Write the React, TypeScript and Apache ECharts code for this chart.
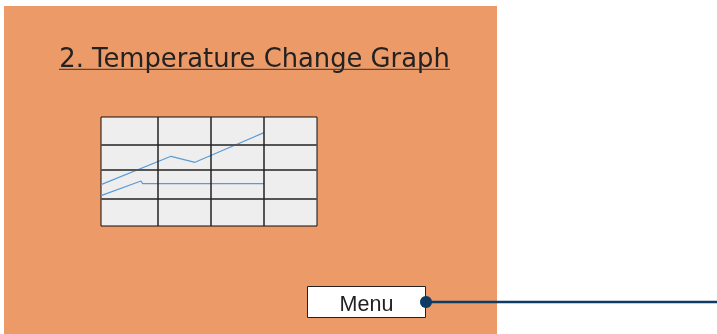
import React, { useEffect, useRef } from "react";
import * as echarts from "echarts";

// Temperature lines (x: position along the grid, y: temperature units)
const upperX = [0, 70, 94, 163];
const upperY = [41.4, 69.7, 63.7, 93.4];
const lowerX = [0, 40, 41.6, 163];
const lowerY = [30.4, 45, 42.4, 42.4];
// Grid cell boundaries
const columnBreaks = [57, 110, 163];
const rowBreaks = [27, 56.7, 81.7];
const xMax = 216;
const yMax = 109;

const title = "2. Temperature Change Graph";
const menuLabel = "Menu";

export default function App() {
  const ref = useRef<HTMLDivElement>(null);
  useEffect(() => {
    document.body.style.margin = "0";
    const chart = echarts.init(ref.current!, undefined, { renderer: "svg" });
    const pair = (xs: number[], ys: number[]) => xs.map((x, i) => [x, ys[i]]);
    chart.setOption({
      animation: false,
      graphic: [
        { type: "rect", z: -10, shape: { x: 4, y: 6, width: 493, height: 340 }, style: { fill: "#EC9A68" } },
        {
          type: "text",
          x: 254.5,
          y: 57.5,
          style: {
            text: title,
            fill: "#222222",
            fontSize: 25.8,
            fontFamily: "DejaVu Sans",
            align: "center",
            verticalAlign: "middle",
          },
        },
        { type: "line", shape: { x1: 59, y1: 69.3, x2: 450, y2: 69.3 }, style: { stroke: "#333333", lineWidth: 1 } },
        {
          type: "rect",
          shape: { x: 307.5, y: 286.5, width: 118, height: 31 },
          style: { fill: "#ffffff", stroke: "#222222", lineWidth: 1 },
        },
        {
          type: "text",
          x: 366.5,
          y: 303.5,
          style: {
            text: menuLabel,
            fill: "#222222",
            fontSize: 21.5,
            fontFamily: "Liberation Sans",
            align: "center",
            verticalAlign: "middle",
          },
        },
        { type: "line", shape: { x1: 426, y1: 302, x2: 717, y2: 302 }, style: { stroke: "#0E3A66", lineWidth: 2.5 } },
        { type: "circle", shape: { cx: 426, cy: 302, r: 6 }, style: { fill: "#0E3A66" } },
      ],
      grid: {
        left: 101,
        top: 117,
        width: 216,
        height: 109,
        show: true,
        backgroundColor: "#EEEEEE",
        borderColor: "#111111",
        borderWidth: 1,
      },
      xAxis: {
        type: "value",
        min: 0,
        max: xMax,
        axisLine: { show: false },
        axisTick: { show: false },
        axisLabel: { show: false },
        splitLine: { show: false },
      },
      yAxis: {
        type: "value",
        min: 0,
        max: yMax,
        axisLine: { show: false },
        axisTick: { show: false },
        axisLabel: { show: false },
        splitLine: { show: false },
      },
      series: [
        {
          type: "line",
          data: [],
          silent: true,
          markLine: {
            silent: true,
            symbol: "none",
            label: { show: false },
            data: [
              ...rowBreaks.map((v) => ({ yAxis: v, lineStyle: { color: "#555555", width: 2, type: "solid" } })),
              ...columnBreaks.map((v) => ({ xAxis: v, lineStyle: { color: "#222222", width: 1.5, type: "solid" } })),
            ],
          },
        },
        {
          type: "line",
          data: pair(upperX, upperY),
          symbol: "none",
          lineStyle: { color: "#5B9BD5", width: 1.2 },
          silent: true,
        },
        {
          type: "line",
          data: pair(lowerX, lowerY),
          symbol: "none",
          lineStyle: { color: "#5B9BD5", width: 1.2 },
          silent: true,
        },
      ],
    });
    return () => chart.dispose();
  }, []);
  return <div ref={ref} style={{ position: "fixed", left: 0, top: 0, width: 717, height: 334 }} />;
}
